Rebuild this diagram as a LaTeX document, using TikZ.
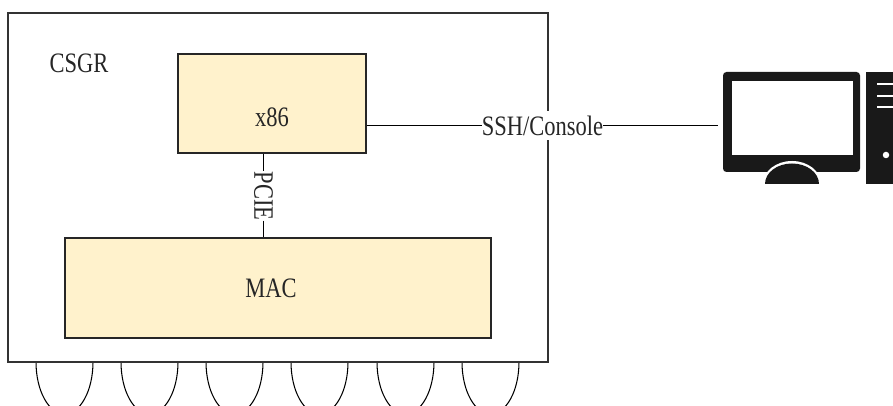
\documentclass[tikz,border=0pt]{standalone}
\usepackage{fontspec}
\setmainfont[FakeStretch=0.8]{Liberation Serif}
\tikzset{
  chassis/.style={draw=black!80, line width=0.8pt, fill=white, minimum width=10.8cm, minimum height=6.98cm, inner sep=0},
  chip/.style={draw=black!85, line width=0.7pt, fill=chipfill, inner sep=0},
  caption/.style={font=\fontsize{16}{19}\selectfont, text=black!85, inner sep=0},
  busname/.style={caption, fill=white},
  link/.style={line width=0.6pt},
}
\definecolor{chipfill}{HTML}{FFF2CC}

\begin{document}
\begin{tikzpicture}
  \useasboundingbox (0, 0) rectangle (17.86, 8.12);
  \clip (0, 0) rectangle (17.86, 8.12);

  \foreach \portx in {1.29, 2.99, 4.69, 6.39, 8.11, 9.81} {
    \draw[link] (\portx - 0.57, 0.88) arc (180:360:0.57 and 1.04);
  }

  \node[chassis] (csgr) at (5.56, 4.37) {};
  \node[caption] (csgrname) at (1.58, 6.85) {CSGR};
  \node[chip, minimum width=3.76cm, minimum height=1.98cm] (x86) at (5.44, 6.05) {};
  \node[caption] (x86name) at (5.44, 5.77) {x86};
  \node[chip, minimum width=8.52cm, minimum height=2cm] (mac) at (5.56, 2.36) {};
  \node[caption] (macname) at (5.42, 2.36) {MAC};

  \node[busname, rotate=-90] (pcie) at (5.27, 4.2) {PCIE};
  \draw[link] (x86.south -| pcie) -- (pcie.west);
  \draw[link] (pcie.east) -- (mac.north -| pcie);

  \node[busname, minimum height=0.58cm] (ssh) at (10.85, 5.61) {SSH/Console};
  \coordinate (pc) at (14.36, 5.61);
  \draw[link] (x86.east |- ssh) -- (ssh.west);
  \draw[link] (ssh.east) -- (pc);

  % monitor and tower
  \fill[black!90, rounded corners=0.07cm] (14.46, 4.68) rectangle (17.2, 6.68);
  \fill[white] (14.64, 5.02) rectangle (17.06, 6.5);
  \fill[white] (15.26, 4.44) arc (180:0:0.58 and 0.46);
  \fill[black!90] (15.3, 4.44) arc (180:0:0.54 and 0.41);
  \fill[black!90] (17.32, 4.44) rectangle (17.86, 6.68);
  \foreach \ledy in {6.44, 6.2, 5.98} {
    \draw[white, line width=0.9pt] (17.54, \ledy) -- (17.86, \ledy);
  }
  \fill[white] (17.72, 5.02) circle (0.065);
\end{tikzpicture}
\end{document}
